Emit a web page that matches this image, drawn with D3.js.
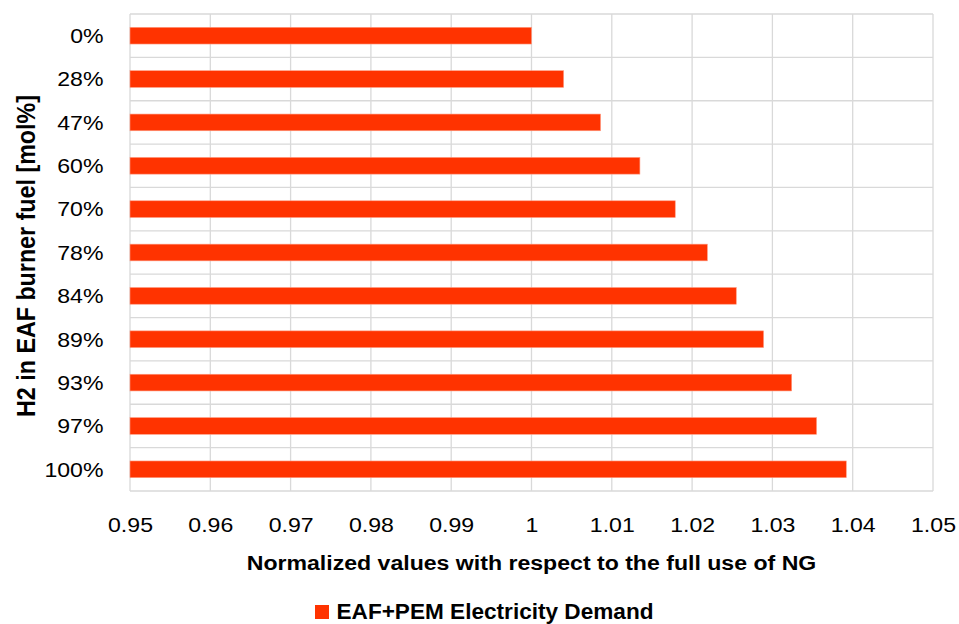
<!DOCTYPE html>
<html>
<head>
<meta charset="utf-8">
<script src="https://cdn.jsdelivr.net/npm/d3@7"></script>
<style>
  html, body { margin: 0; padding: 0; background: #fff; }
  svg { display: block; }
</style>
</head>
<body>
<svg id="chart" width="959" height="624"></svg>
<script>
// H2 share in EAF burner fuel and normalized electricity demand
const categories = ["0%", "28%", "47%", "60%", "70%", "78%", "84%", "89%", "93%", "97%", "100%"];
const demandValues = [1.0, 1.004, 1.0086, 1.0135, 1.0179, 1.0219, 1.0255, 1.0289, 1.0324, 1.0355, 1.0392];
const xTicks = [0.95, 0.96, 0.97, 0.98, 0.99, 1.0, 1.01, 1.02, 1.03, 1.04, 1.05];
const seriesName = "EAF+PEM Electricity Demand";
const xTitle = "Normalized values with respect to the full use of NG";
const yTitle = "H2 in EAF burner fuel [mol%]";

const plot = { left: 130, right: 933, top: 14, bottom: 491 };
const barColor = "#ff3300";
const gridColor = "#d9d9d9";
const tickFont = "'Liberation Sans', Arial, sans-serif";
const titleFont = "'Liberation Sans', Arial, sans-serif";
const stretch = 1.1; // slightly wide lettering

const svg = d3.select("#chart");

const x = d3.scaleLinear().domain([0.95, 1.05]).range([plot.left, plot.right]);
const y = d3.scaleBand().domain(categories).range([plot.top, plot.bottom]).paddingInner(0.615).paddingOuter(0.3075);
const yGrid = d3.scaleBand().domain(categories).range([plot.top, plot.bottom]);

// vertical gridlines
svg.append("g")
  .selectAll("line")
  .data(xTicks)
  .join("line")
  .attr("x1", d => x(d)).attr("x2", d => x(d))
  .attr("y1", plot.top).attr("y2", plot.bottom)
  .attr("stroke", gridColor).attr("stroke-width", 1.3);

// horizontal gridlines at category boundaries
const rowEdges = categories.map(c => yGrid(c)).concat([plot.bottom]);
svg.append("g")
  .selectAll("line")
  .data(rowEdges)
  .join("line")
  .attr("x1", plot.left).attr("x2", plot.right)
  .attr("y1", d => d).attr("y2", d => d)
  .attr("stroke", gridColor).attr("stroke-width", 1.3);

// bars
svg.append("g")
  .selectAll("rect")
  .data(categories.map((c, i) => ({ c, v: demandValues[i] })))
  .join("rect")
  .attr("x", x(0.95))
  .attr("y", d => y(d.c))
  .attr("width", d => x(d.v) - x(0.95))
  .attr("height", y.bandwidth())
  .attr("fill", barColor)
  .attr("stroke", "#ff9a80").attr("stroke-width", 0.6);

// x axis labels
const xAxis = d3.axisBottom(x).tickValues(xTicks).tickSize(0).tickPadding(0)
  .tickFormat(d => String(+d.toFixed(2)));
const gx = svg.append("g").attr("transform", `translate(0,${plot.bottom + 40.5})`).call(xAxis);
gx.select(".domain").remove();
gx.selectAll("text").attr("font-family", tickFont).attr("font-size", 21).attr("fill", "#000")
  .attr("dy", "0").attr("transform", `scale(${stretch},1)`);

// y axis labels
const yAxis = d3.axisLeft(y).tickSize(0).tickPadding(0);
const gy = svg.append("g").attr("transform", `translate(${plot.left - 26.5},0)`).call(yAxis);
gy.select(".domain").remove();
gy.selectAll("text").attr("font-family", tickFont).attr("font-size", 21).attr("fill", "#000")
  .attr("dy", "0.35em").attr("transform", `scale(${stretch},1)`);

// axis titles
svg.append("text")
  .attr("transform", `translate(${(plot.left + plot.right) / 2},570) scale(${stretch},1)`)
  .attr("text-anchor", "middle")
  .attr("font-family", titleFont).attr("font-weight", "bold").attr("font-size", 21)
  .attr("fill", "#000")
  .text(xTitle);

svg.append("text")
  .attr("transform", `translate(35,256) scale(${stretch},1) rotate(-90)`)
  .attr("text-anchor", "middle")
  .attr("font-family", titleFont).attr("font-weight", "bold").attr("font-size", 23)
  .attr("textLength", 322).attr("lengthAdjust", "spacingAndGlyphs")
  .attr("fill", "#000")
  .text(yTitle);

// legend
const legend = svg.append("g").attr("transform", "translate(315,605)");
legend.append("rect").attr("width", 14).attr("height", 14).attr("fill", barColor);
legend.append("text").attr("x", 21.5).attr("y", 13.5)
  .attr("font-family", titleFont).attr("font-weight", "bold").attr("font-size", 21.5)
  .attr("textLength", 317).attr("lengthAdjust", "spacingAndGlyphs")
  .attr("fill", "#000").text(seriesName);
</script>
</body>
</html>
